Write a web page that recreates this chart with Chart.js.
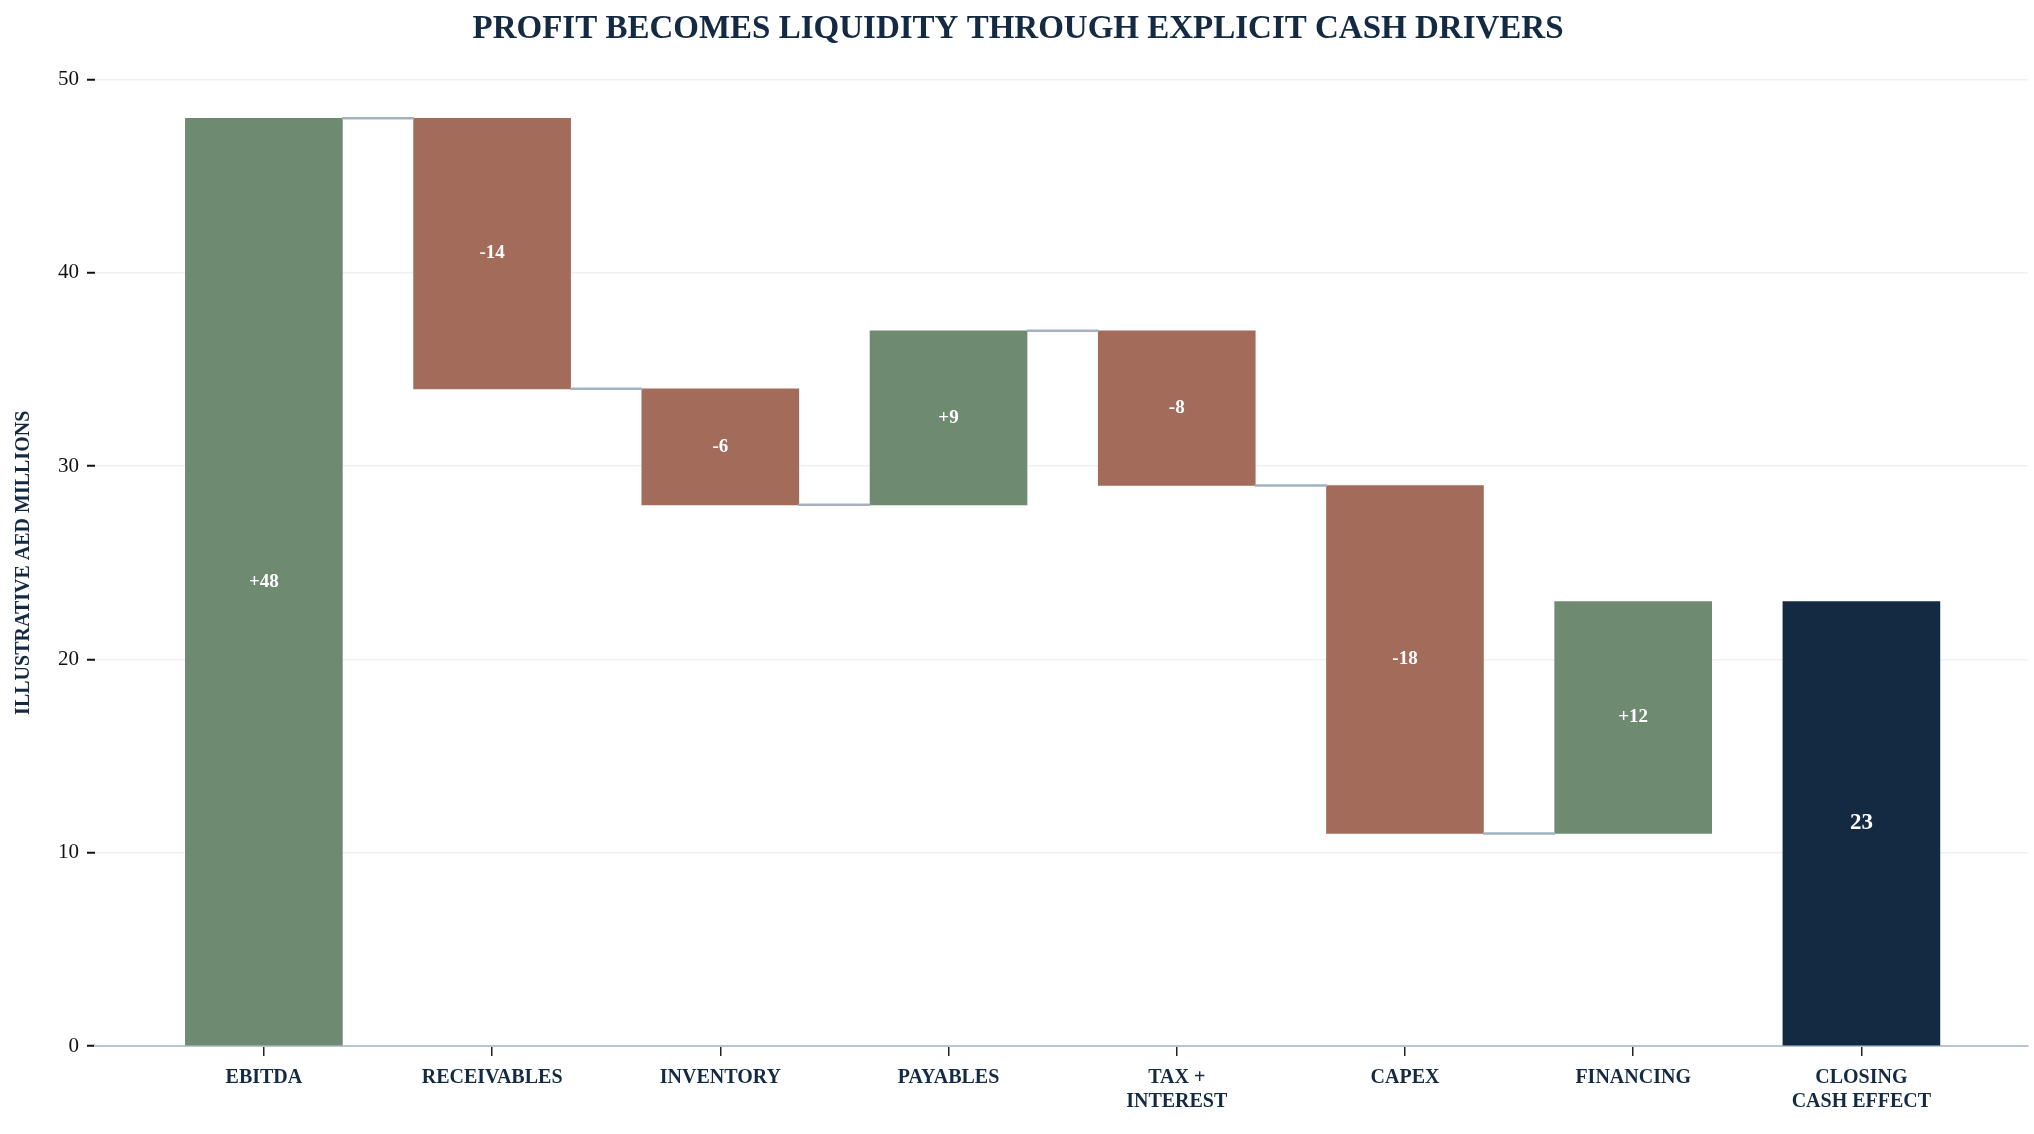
<!DOCTYPE html>
<html>
<head>
<meta charset="utf-8">
<script src="https://cdn.jsdelivr.net/npm/chart.js@4"></script>
<style>
  html, body { margin: 0; padding: 0; background: #fff; }
  #wrap { width: 2034px; height: 1134px; position: relative; }
</style>
</head>
<body>
<div id="wrap"><canvas id="chart"></canvas></div>
<script>
// Waterfall data (AED millions)
const categories = [['EBITDA'], ['RECEIVABLES'], ['INVENTORY'], ['PAYABLES'], ['TAX +', 'INTEREST'], ['CAPEX'], ['FINANCING'], ['CLOSING', 'CASH EFFECT']];
const changes = [48, -14, -6, 9, -8, -18, 12];
const closingValue = 23;
const yTicks = [0, 10, 20, 30, 40, 50];

const GREEN = '#6e8b72', RED = '#a36b5a', NAVY = '#132a42', CONNECT = '#a3b1c2';
const HALF = 0.342;

// build floating bars from running totals
const bars = [];
const colors = [];
const labels = [];
const connector = [];
let total = 0;
changes.forEach((c, i) => {
    const start = total;
    total += c;
    bars.push({ x: i, y: [start, total] });
    colors.push(c >= 0 ? GREEN : RED);
    labels.push((c >= 0 ? '+' : '') + c);
    connector.push({ x: i + HALF, y: total }, { x: i + 1 - HALF, y: total }, { x: i + 0.5, y: null });
});
bars.push({ x: changes.length, y: [0, closingValue] });
colors.push(NAVY);
labels.push(String(closingValue));
// no connector into the closing bar
connector.splice(connector.length - 3, 3);

const centerLabels = {
    id: 'centerLabels',
    afterDatasetsDraw(chart) {
        const ctx = chart.ctx;
        const meta = chart.getDatasetMeta(0);
        ctx.save();
        ctx.fillStyle = '#ffffff';
        ctx.textAlign = 'center';
        ctx.textBaseline = 'middle';
        meta.data.forEach((bar, i) => {
            const last = i === meta.data.length - 1;
            ctx.font = 'bold ' + (last ? 23 : 19) + 'px "Liberation Serif"';
            ctx.fillText(labels[i], bar.x, (bar.y + bar.base) / 2);
        });
        ctx.restore();
    }
};

new Chart(document.getElementById('chart'), {
    data: {
        datasets: [{
            type: 'bar',
            data: bars,
            backgroundColor: colors,
            barThickness: 157,
            borderSkipped: false,
            order: 2
        }, {
            type: 'line',
            data: connector,
            borderColor: CONNECT,
            borderWidth: 2.5,
            pointRadius: 0,
            spanGaps: false,
            order: 1
        }]
    },
    options: {
        responsive: true,
        maintainAspectRatio: false,
        animation: false,
        layout: { padding: { top: 8, right: 6, left: 8, bottom: 10 } },
        plugins: {
            legend: { display: false },
            tooltip: { enabled: false },
            title: {
                display: true,
                text: 'PROFIT BECOMES LIQUIDITY THROUGH EXPLICIT CASH DRIVERS',
                color: NAVY,
                font: { family: 'Liberation Serif', size: 33, weight: 'bold' },
                padding: { top: 2, bottom: 30 }
            }
        },
        scales: {
            x: {
                type: 'linear',
                offset: false,
                min: -0.74,
                max: 7.73,
                afterBuildTicks(axis) {
                    axis.ticks = categories.map((c, i) => ({ value: i }));
                },
                ticks: {
                    autoSkip: false,
                    maxRotation: 0,
                    color: NAVY,
                    padding: 10,
                    font: { family: 'Liberation Serif', size: 20, weight: 'bold' },
                    callback: (v) => categories[v]
                },
                grid: { display: true, offset: false, drawOnChartArea: false, drawTicks: true, tickLength: 10, color: '#222', lineWidth: 1.5 },
                border: { color: '#b8c6d4', width: 2 }
            },
            y: {
                min: 0,
                max: 50,
                afterBuildTicks(axis) {
                    axis.ticks = yTicks.map(v => ({ value: v }));
                },
                title: {
                    display: true,
                    text: 'ILLUSTRATIVE AED MILLIONS',
                    color: NAVY,
                    font: { family: 'Liberation Serif', size: 20, weight: 'bold' },
                    padding: { bottom: 14 }
                },
                ticks: {
                    color: '#111',
                    padding: 8,
                    font: { family: 'Liberation Serif', size: 21 }
                },
                grid: { color: '#edf1f4', lineWidth: 1.5, tickLength: 8, tickColor: '#111', tickWidth: 2 },
                border: { display: false }
            }
        }
    },
    plugins: [centerLabels]
});
</script>
</body>
</html>
